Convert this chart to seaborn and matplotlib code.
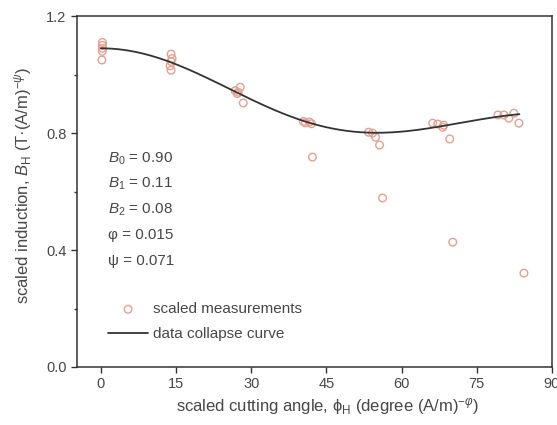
import numpy as np
import pandas as pd
import matplotlib
matplotlib.use("Agg")
import matplotlib.pyplot as plt
import seaborn as sns

# scaled measurements, grouped by cutting angle
phi_meas = [0.3, 0.3, 0.3, 0.3, 0.2,
            14.0, 14.2, 14.0, 13.8, 14.0,
            27.8, 26.8, 28.4, 27.4, 27.2,
            40.4, 41.6, 40.8, 42.0, 42.2,
            53.4, 54.2, 54.8, 55.6, 56.2,
            66.2, 67.2, 68.4, 68.2, 69.6, 70.2,
            79.2, 80.4, 81.4, 82.4, 83.4, 84.4]
b_meas = [1.11, 1.10, 1.09, 1.08, 1.05,
          1.07, 1.055, 1.045, 1.03, 1.015,
          0.957, 0.945, 0.903, 0.94, 0.935,
          0.840, 0.838, 0.835, 0.832, 0.718,
          0.803, 0.800, 0.786, 0.759, 0.578,
          0.834, 0.831, 0.827, 0.820, 0.780, 0.427,
          0.862, 0.862, 0.851, 0.868, 0.834, 0.321]

# fit parameters of the data collapse curve
B0, B1, B2 = 0.90, 0.11, 0.08
phi_exp, psi_exp = 0.015, 0.071
curve_range = (0.0, 83.5)

x_ticks = [0, 15, 30, 45, 60, 75, 90]
y_ticks = [0.0, 0.4, 0.8, 1.2]

sns.set_style("ticks")
plt.rcParams["font.family"] = ["Liberation Sans", "DejaVu Sans"]
plt.rcParams["mathtext.fontset"] = "custom"
plt.rcParams["mathtext.rm"] = "Liberation Sans"
plt.rcParams["mathtext.it"] = "Liberation Sans:italic"

TXT = "#474747"

fig = plt.figure(figsize=(5.57, 4.25), dpi=100)
ax = fig.add_axes([0.138, 0.1365, 0.853, 0.8255])

meas = pd.DataFrame({"phi": phi_meas, "B": b_meas})
phi_c = np.linspace(*curve_range, 300)
curve = pd.DataFrame({"phi": phi_c,
                      "B": B0 + B1 * np.cos(np.radians(2 * phi_c))
                      + B2 * np.cos(np.radians(4 * phi_c))})

sns.scatterplot(data=meas, x="phi", y="B", ax=ax, marker="o", s=30,
                facecolors="none", edgecolor="#e6a090", linewidth=1.0,
                label="scaled measurements", zorder=3)
sns.lineplot(data=curve, x="phi", y="B", ax=ax, color="#333333",
             linewidth=1.3, label="data collapse curve", zorder=4)

ax.set_xlim(-4.8, 90)
ax.set_ylim(0, 1.2)
ax.set_xticks(x_ticks)
ax.set_yticks(y_ticks)
ax.set_yticks([0.2, 0.6, 1.0], minor=True)
ax.set_xticklabels([str(t) for t in x_ticks])
ax.set_yticklabels([f"{t:.1f}" for t in y_ticks])
ax.tick_params(axis="both", which="major", direction="out", length=4,
               width=1, labelsize=10.5, colors="#333333", labelcolor=TXT)
ax.tick_params(axis="y", which="minor", direction="out", length=2.5, width=1,
               colors="#333333")
for s in ax.spines.values():
    s.set_visible(True)
    s.set_color("#333333")
    s.set_linewidth(1.1)

ax.set_xlabel(r"scaled cutting angle, ϕ$_\mathrm{H}$ (degree (A/m)$^{-\varphi}$)",
              fontsize=12, color=TXT)
ax.set_ylabel(r"scaled induction, $B_\mathrm{H}$ (T·(A/m)$^{-\psi}$)",
              fontsize=12, color=TXT)
ax.xaxis.set_label_coords(0.527, -0.085)
ax.yaxis.set_label_coords(-0.09, 0.518)

params = [(r"$B_0$ = " + f"{B0:.2f}"),
          (r"$B_1$ = " + f"{B1:.2f}"),
          (r"$B_2$ = " + f"{B2:.2f}"),
          f"φ = {phi_exp:.3f}",
          f"ψ = {psi_exp:.3f}"]
for i, t in enumerate(params):
    ax.text(1.4, 0.712 - i * 0.087, t, fontsize=11, color=TXT,
            va="center", ha="left")

leg = ax.legend(loc="lower left", bbox_to_anchor=(0.037, 0.035), frameon=False,
                fontsize=11, handlelength=2.6, labelspacing=0.7,
                handletextpad=0.35, borderpad=0.4)
for t in leg.get_texts():
    t.set_color(TXT)

fig.savefig("out.png", dpi=100)
